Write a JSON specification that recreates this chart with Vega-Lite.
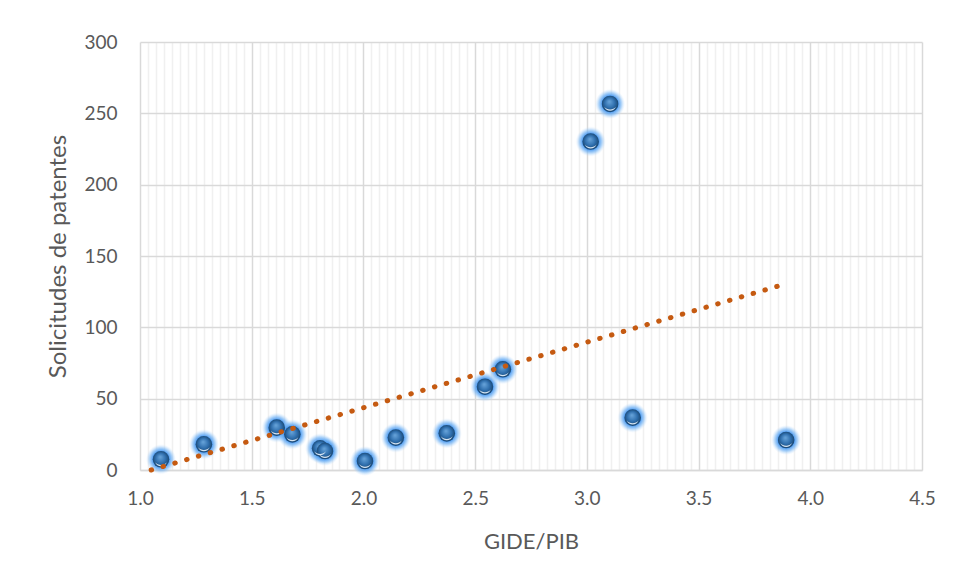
{
  "$schema": "https://vega.github.io/schema/vega-lite/v6.json",
  "width": 782,
  "height": 428,
  "autosize": "none",
  "padding": {"left": 140, "top": 42, "right": 33, "bottom": 112},
  "background": "white",
  "config": {
    "view": {"stroke": null},
    "font": "Lato",
    "axis": {
      "labelFont": "Lato",
      "titleFont": "Lato",
      "labelColor": "#595959",
      "titleColor": "#595959",
      "labelFontSize": 19,
      "titleFontSize": 22,
      "titleFontWeight": "normal",
      "labelFlush": false,
      "ticks": false,
      "domain": false,
      "gridColor": "#D9D9D9",
      "gridWidth": 1.5
    }
  },
  "datasets": {
    "paises": [
      {"gide_pib": 1.094, "solicitudes": 7.5},
      {"gide_pib": 1.286, "solicitudes": 18.0},
      {"gide_pib": 1.612, "solicitudes": 29.7},
      {"gide_pib": 1.682, "solicitudes": 25.0},
      {"gide_pib": 1.806, "solicitudes": 15.2},
      {"gide_pib": 1.828, "solicitudes": 13.3},
      {"gide_pib": 2.007, "solicitudes": 6.3},
      {"gide_pib": 2.145, "solicitudes": 22.7},
      {"gide_pib": 2.373, "solicitudes": 25.7},
      {"gide_pib": 2.544, "solicitudes": 58.4},
      {"gide_pib": 2.624, "solicitudes": 70.6},
      {"gide_pib": 3.017, "solicitudes": 230.2},
      {"gide_pib": 3.104, "solicitudes": 256.6},
      {"gide_pib": 3.205, "solicitudes": 36.7},
      {"gide_pib": 3.892, "solicitudes": 21.0}
    ],
    "tendencia": [
      {"gide_pib": 1.05, "solicitudes": 0},
      {"gide_pib": 3.88, "solicitudes": 130}
    ]
  },
  "resolve": {"axis": {"x": "independent", "y": "independent"}},
  "layer": [
    {
      "data": {"name": "paises"},
      "mark": {"type": "point", "opacity": 0},
      "encoding": {
        "x": {
          "field": "gide_pib", "type": "quantitative",
          "scale": {"domain": [1, 4.5], "nice": false, "zero": false},
          "axis": {
            "orient": "bottom", "title": null, "labels": false, "grid": true,
            "gridColor": "#F0F0F0", "gridWidth": 1.5,
            "values": [1.0357, 1.0714, 1.1071, 1.1429, 1.1786, 1.2143, 1.25, 1.2857, 1.3214, 1.3571, 1.3929, 1.4286, 1.4643,
                       1.5357, 1.5714, 1.6071, 1.6429, 1.6786, 1.7143, 1.75, 1.7857, 1.8214, 1.8571, 1.8929, 1.9286, 1.9643,
                       2.0357, 2.0714, 2.1071, 2.1429, 2.1786, 2.2143, 2.25, 2.2857, 2.3214, 2.3571, 2.3929, 2.4286, 2.4643,
                       2.5357, 2.5714, 2.6071, 2.6429, 2.6786, 2.7143, 2.75, 2.7857, 2.8214, 2.8571, 2.8929, 2.9286, 2.9643,
                       3.0357, 3.0714, 3.1071, 3.1429, 3.1786, 3.2143, 3.25, 3.2857, 3.3214, 3.3571, 3.3929, 3.4286, 3.4643,
                       3.5357, 3.5714, 3.6071, 3.6429, 3.6786, 3.7143, 3.75, 3.7857, 3.8214, 3.8571, 3.8929, 3.9286, 3.9643,
                       4.0357, 4.0714, 4.1071, 4.1429, 4.1786, 4.2143, 4.25, 4.2857, 4.3214, 4.3571, 4.3929, 4.4286, 4.4643]
          }
        },
        "y": {
          "field": "solicitudes", "type": "quantitative",
          "scale": {"domain": [0, 300], "nice": false},
          "axis": null
        }
      }
    },
    {
      "data": {"name": "paises"},
      "mark": {"type": "point", "opacity": 0},
      "encoding": {
        "x": {
          "field": "gide_pib", "type": "quantitative",
          "scale": {"domain": [1, 4.5], "nice": false, "zero": false},
          "axis": {
            "orient": "bottom",
            "title": "GIDE/PIB", "values": [1, 1.5, 2, 2.5, 3, 3.5, 4, 4.5], "format": ".1f",
            "labelPadding": 19, "grid": true,
            "domain": true, "domainColor": "#D9D9D9", "domainWidth": 1.5,
            "titleY": 71, "titleBaseline": "middle"
          }
        },
        "y": {
          "field": "solicitudes", "type": "quantitative",
          "scale": {"domain": [0, 300], "nice": false},
          "axis": {
            "orient": "left",
            "title": "Solicitudes de patentes", "values": [0, 50, 100, 150, 200, 250, 300],
            "labelPadding": 23, "grid": true, "titleFontSize": 24,
            "titleX": -82, "titleBaseline": "middle"
          }
        }
      }
    },
    {
      "data": {"name": "paises"},
      "mark": {
        "type": "circle", "size": 900, "opacity": 1,
        "color": {
          "gradient": "radial",
          "x1": 0.5, "y1": 0.5, "x2": 0.5, "y2": 0.5, "r1": 0, "r2": 0.5,
          "stops": [
            {"offset": 0.5, "color": "rgba(60,145,240,1)"},
            {"offset": 0.75, "color": "rgba(115,180,245,0.6)"},
            {"offset": 1, "color": "rgba(200,225,250,0)"}
          ]
        }
      },
      "encoding": {
        "x": {"field": "gide_pib", "type": "quantitative", "axis": null},
        "y": {"field": "solicitudes", "type": "quantitative", "axis": null}
      }
    },
    {
      "data": {"name": "paises"},
      "mark": {
        "type": "circle", "size": 275, "opacity": 1,
        "color": {
          "gradient": "radial",
          "x1": 0.45, "y1": 0.35, "x2": 0.5, "y2": 0.5, "r1": 0, "r2": 0.55,
          "stops": [
            {"offset": 0, "color": "#6AA6DC"},
            {"offset": 0.55, "color": "#2F6FAE"},
            {"offset": 1, "color": "#163F66"}
          ]
        }
      },
      "encoding": {
        "x": {"field": "gide_pib", "type": "quantitative", "axis": null},
        "y": {"field": "solicitudes", "type": "quantitative", "axis": null}
      }
    },
    {
      "data": {"name": "paises"},
      "mark": {"type": "point", "shape": "M-0.7,0.35 A0.75,0.75 0 0 0 0.7,0.35 A0.9,0.9 0 0 1 -0.7,0.35 Z", "size": 275, "filled": true, "color": "#EAF3FB", "opacity": 0.9},
      "encoding": {
        "x": {"field": "gide_pib", "type": "quantitative", "axis": null},
        "y": {"field": "solicitudes", "type": "quantitative", "axis": null}
      }
    },
    {
      "data": {"name": "tendencia"},
      "mark": {"type": "line", "color": "#C55A11", "strokeWidth": 5, "strokeCap": "round", "strokeDash": [0.5, 11.8]},
      "encoding": {
        "x": {"field": "gide_pib", "type": "quantitative", "axis": null},
        "y": {"field": "solicitudes", "type": "quantitative", "axis": null}
      }
    }
  ]
}
